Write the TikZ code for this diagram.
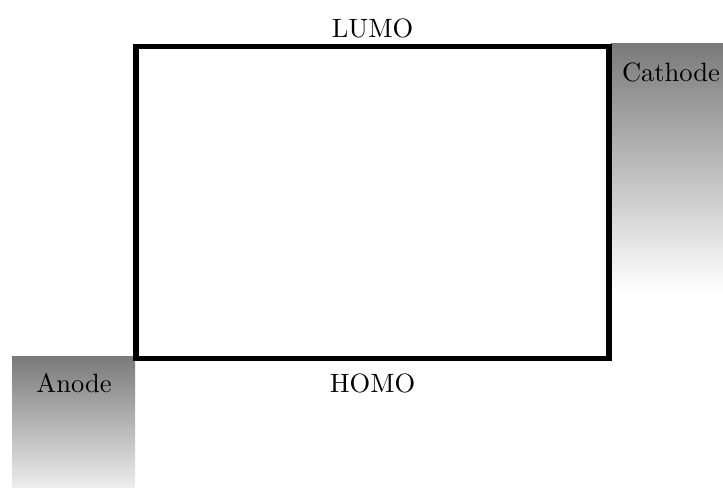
\documentclass[tikz,border=0pt]{standalone}
\begin{document}
\begin{tikzpicture}[x=0.013263cm,y=-0.013263cm,
  electrode/.style={top color=black!52, bottom color=white, draw=none},
  level/.style={line width=2.1pt, line join=miter},
  lbl/.style={inner sep=0pt, font=\normalsize}]
\useasboundingbox (0,0) rectangle (723,488);
\begin{scope}
\clip (0,0) rectangle (723,488);
\shade[electrode] (12,357) rectangle (135,508);
\shade[electrode] (611,44) rectangle (723,292);
\end{scope}
\draw[level] (136,46.5) rectangle (609,358.5);
\node[lbl] (lumo) at (372.5,28) {LUMO};
\node[lbl] (homo) at (372.5,383) {HOMO};
\node[lbl] (anode) at (74,383) {Anode};
\node[lbl] (cathode) at (671,72) {Cathode};
\end{tikzpicture}
\end{document}
